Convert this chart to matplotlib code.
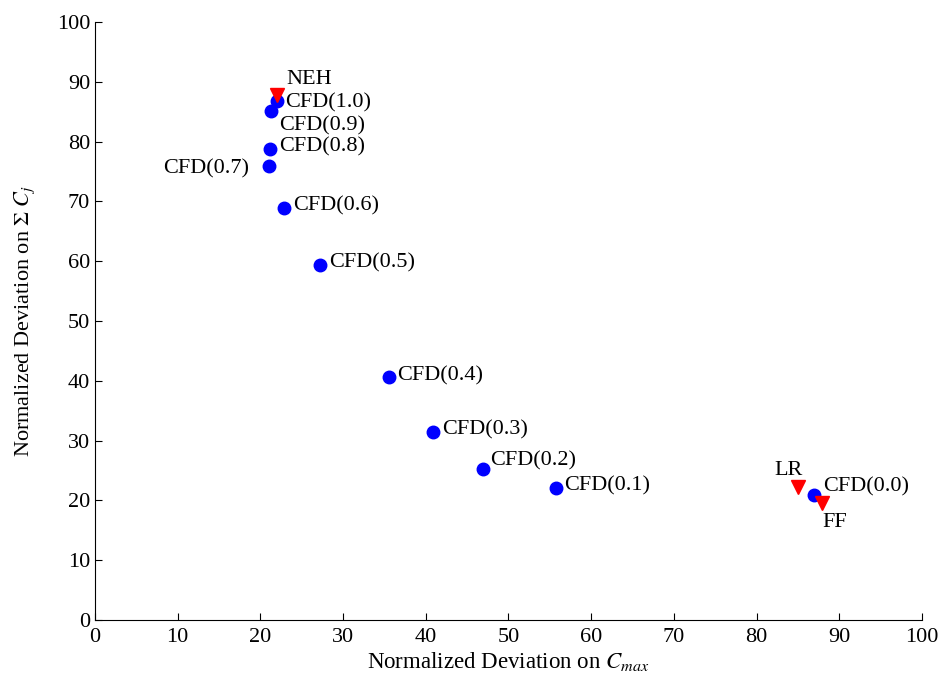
import matplotlib
matplotlib.use("Agg")
import matplotlib.pyplot as plt

cfd_labels = ["CFD(0.0)", "CFD(0.1)", "CFD(0.2)", "CFD(0.3)", "CFD(0.4)", "CFD(0.5)",
              "CFD(0.6)", "CFD(0.7)", "CFD(0.8)", "CFD(0.9)", "CFD(1.0)"]
cfd_x = [86.9, 55.7, 46.9, 40.9, 35.5, 27.2, 22.9, 21.0, 21.2, 21.3, 22.0]
cfd_y = [20.9, 22.1, 25.3, 31.4, 40.6, 59.4, 68.9, 75.9, 78.8, 85.1, 86.8]

heur_labels = ["NEH", "LR", "FF"]
heur_x = [22.0, 85.0, 87.9]
heur_y = [87.8, 22.2, 19.6]

# label offsets (pixels) and alignment
cfd_off = [(9, 8, 'left'), (8, 2, 'left'), (7, 8, 'left'), (9, 2, 'left'), (9, 1, 'left'),
           (9, 2, 'left'), (9, 2, 'left'), (-20, -3, 'right'), (9, 2, 'left'),
           (8, -15, 'left'), (8, -2, 'left')]
heur_off = [(9, 15, 'left'), (5, 17, 'right'), (0, -20, 'left')]

plt.rcParams['font.family'] = ['Liberation Serif', 'DejaVu Serif']
plt.rcParams['mathtext.fontset'] = 'stix'

fs = 16
fig = plt.figure(figsize=(9.42, 6.91), dpi=100)
ax = fig.add_axes([0.1008, 0.1027, 0.878, 0.8655])

ax.plot(cfd_x, cfd_y, 'o', color='#0000ff', markersize=9, linestyle='none', zorder=3)
ax.plot(heur_x, heur_y, 'v', color='#ff0000', markersize=10, linestyle='none', zorder=4)

for lab, x, y, (dx, dy, ha) in zip(cfd_labels, cfd_x, cfd_y, cfd_off):
    ax.annotate(lab, (x, y), xytext=(dx, dy), textcoords='offset pixels',
                ha=ha, va='center', fontsize=fs)
for lab, x, y, (dx, dy, ha) in zip(heur_labels, heur_x, heur_y, heur_off):
    ax.annotate(lab, (x, y), xytext=(dx, dy), textcoords='offset pixels',
                ha=ha, va='center', fontsize=fs)

ax.set_xlim(0, 100)
ax.set_ylim(0, 100)
ax.set_xticks(range(0, 101, 10))
ax.set_yticks(range(0, 101, 10))
ax.tick_params(direction='in', labelsize=fs, length=5)
ax.tick_params(axis='x', pad=6)
ax.spines['top'].set_visible(False)
ax.spines['right'].set_visible(False)
ax.set_xlabel(r"Normalized Deviation on $C_{max}$", fontsize=16.5, labelpad=2)
ax.set_ylabel(r"Normalized Deviation on $\Sigma\ C_j$", fontsize=16, labelpad=14)

fig.savefig("out.png", dpi=100)
